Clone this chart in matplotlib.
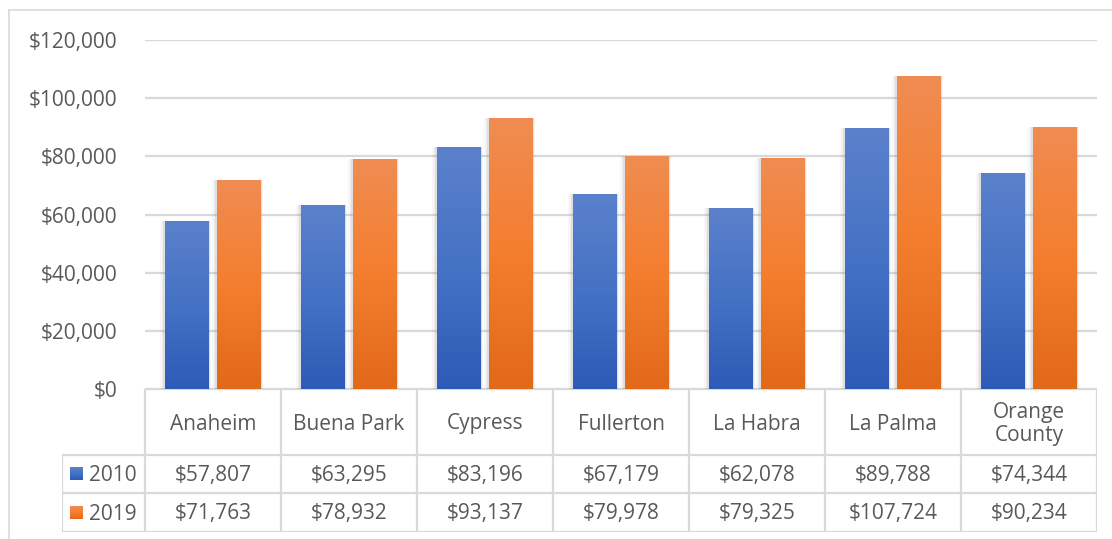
import numpy as np
import matplotlib
matplotlib.use("Agg")
import matplotlib.pyplot as plt
from matplotlib.colors import LinearSegmentedColormap
from matplotlib.patches import Rectangle
from matplotlib.ticker import FuncFormatter

# Data
cities = ["Anaheim", "Buena Park", "Cypress", "Fullerton", "La Habra", "La Palma", "Orange\nCounty"]
series_names = ["2010", "2019"]
income_2010 = [57807, 63295, 83196, 67179, 62078, 89788, 74344]
income_2019 = [71763, 78932, 93137, 79978, 79325, 107724, 90234]

plt.rcParams["font.family"] = ["Open Sans", "DejaVu Sans"]
text_color = "#595959"
grid_color = "#D9D9D9"
fs = 15

W, H = 1112, 539
fig = plt.figure(figsize=(W / 100, H / 100), dpi=100)


def fx(px):
    return px / W


def fy(py):
    return 1 - py / H


# chart area border (left and top)
fig.add_artist(plt.Line2D([fx(8.5), fx(8.5)], [fy(10), 0], color=grid_color, lw=1.2))
fig.add_artist(plt.Line2D([fx(8.5), 1], [fy(10), fy(10)], color=grid_color, lw=1.2))

# main plot area
x0, x1 = 145, 1097
y_top, y_base = 40, 389
ax = fig.add_axes([fx(x0), fy(y_base), fx(x1 - x0), (y_base - y_top) / H])
n = len(cities)
ax.set_xlim(-0.5, n - 0.5)
ax.set_ylim(0, 120000)
ax.set_yticks(np.arange(0, 120001, 20000))
ax.yaxis.set_major_formatter(FuncFormatter(lambda v, p: f"${v:,.0f}"))
ax.tick_params(axis="y", length=0, pad=20, labelsize=fs, labelcolor=text_color)
ax.set_xticks([])
for s in ax.spines.values():
    s.set_visible(False)
ax.grid(axis="y", color=grid_color, lw=1.6)
ax.set_axisbelow(True)

bw = 44 / 136
gap = 8 / 136
x = np.arange(n)
blue_cmap = LinearSegmentedColormap.from_list("b", ["#2D5BB6", "#4472C4", "#5C81CC"])
orange_cmap = LinearSegmentedColormap.from_list("o", ["#E2681A", "#F47E2E", "#F08C52"])
grad = np.linspace(0, 1, 256).reshape(-1, 1)


def gradient_bars(xs, vals, cmap):
    bars = ax.bar(xs, vals, width=bw, color="none", zorder=3)
    for b in bars:
        bx, by = b.get_x(), b.get_y()
        w, h = b.get_width(), b.get_height()
        # soft shadow
        for k, a in [(0.035, 0.06), (0.022, 0.08), (0.012, 0.12)]:
            ax.add_patch(Rectangle((bx - k, by - k * 9000), w + k * 1.4, h + k * 9000,
                                   color="#808080", alpha=a, lw=0, zorder=2))
        im = ax.imshow(grad, cmap=cmap, aspect="auto", origin="lower",
                       extent=(bx, bx + w, by, by + h), zorder=4)
        im.set_clip_path(b)
    return bars


gradient_bars(x - (bw + gap) / 2, income_2010, blue_cmap)
gradient_bars(x + (bw + gap) / 2, income_2019, orange_cmap)
ax.set_xlim(-0.5, n - 0.5)
ax.set_ylim(0, 120000)

# data table below
leg_x = 62
tab_bottom = 532
tax = fig.add_axes([fx(leg_x), fy(tab_bottom), fx(x1 - leg_x), (tab_bottom - y_base) / H])
left_unit = -0.5 - (x0 - leg_x) / 136
tax.set_xlim(left_unit, n - 0.5)
tax.set_ylim(tab_bottom - y_base, 0)
tax.axis("off")
row_h = [0, 66, 104, 143]
lk = dict(color=grid_color, lw=1.6, solid_capstyle="butt")
tax.plot([-0.5, n - 0.5], [0, 0], **lk)
for yy in row_h[1:]:
    tax.plot([left_unit, n - 0.5], [yy, yy], **lk)
for i in range(n + 1):
    tax.plot([i - 0.5, i - 0.5], [0, row_h[-1]], **lk)
tax.plot([left_unit, left_unit], [row_h[1], row_h[-1]], **lk)

for i, c in enumerate(cities):
    tax.text(i, row_h[1] / 2 + 2, c, ha="center", va="center", fontsize=fs,
             color=text_color, linespacing=1.15)

for r, (name, vals, cmap) in enumerate([(series_names[0], income_2010, blue_cmap),
                                        (series_names[1], income_2019, orange_cmap)]):
    yc = (row_h[r + 1] + row_h[r + 2]) / 2
    kx = left_unit + 8 / 136
    kw = 13 / 136
    tax.imshow(grad, cmap=cmap, aspect="auto", origin="lower",
               extent=(kx, kx + kw, yc + 6.5, yc - 6.5), zorder=3)
    tax.text(kx + kw + 6 / 136, yc + 1.5, name, ha="left", va="center", fontsize=fs, color=text_color)
    for i, v in enumerate(vals):
        tax.text(i, yc + 1.5, f"${v:,}", ha="center", va="center", fontsize=fs, color=text_color)
tax.set_xlim(left_unit, n - 0.5)
tax.set_ylim(tab_bottom - y_base, 0)

fig.savefig("out.png", dpi=100)
